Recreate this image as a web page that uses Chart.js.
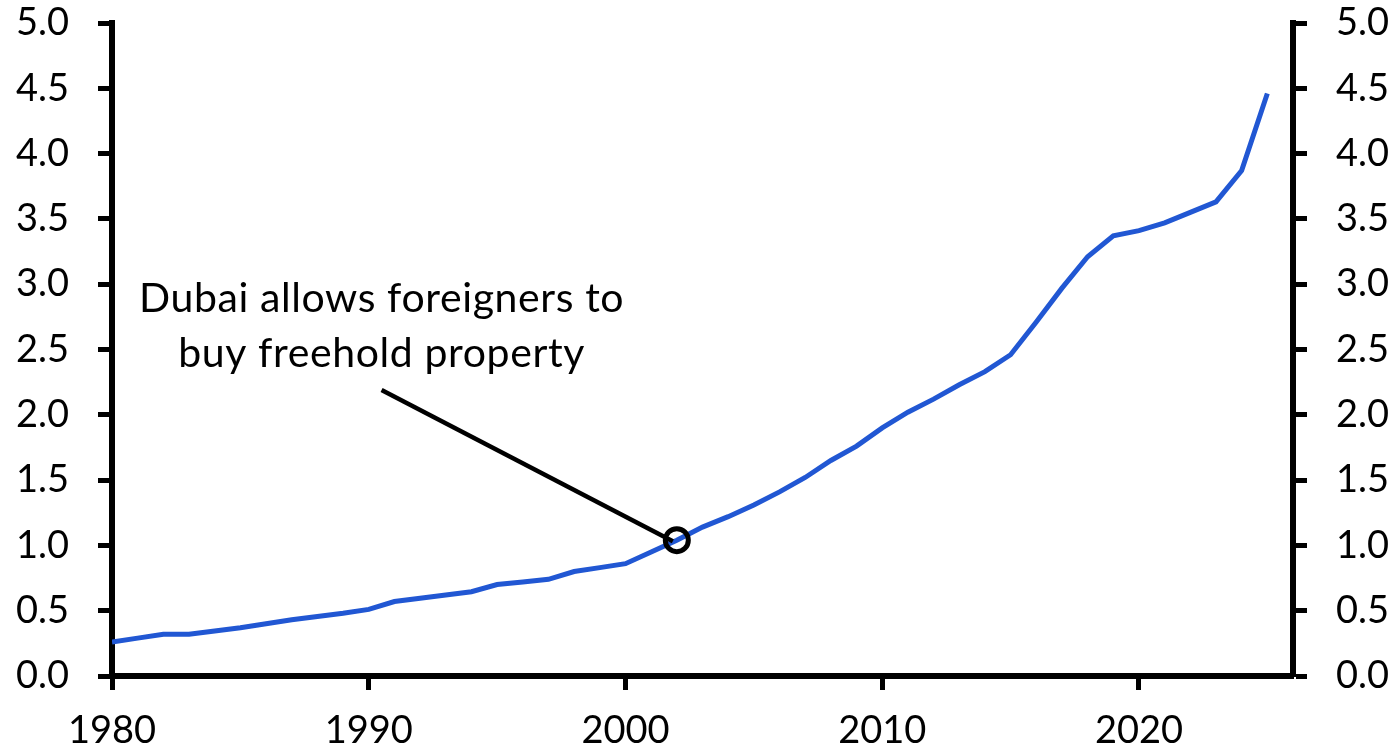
<!DOCTYPE html>
<html>
<head>
<meta charset="utf-8">
<script src="https://cdn.jsdelivr.net/npm/chart.js@4.4.1/dist/chart.umd.min.js"></script>
<style>
  html, body { margin: 0; padding: 0; background: #fff; }
  #wrap { width: 1399px; height: 755px; position: relative; }
</style>
</head>
<body>
<div id="wrap"><canvas id="chart"></canvas></div>
<script>
// Annual series, 1980-2025
const years = [
  1980, 1981, 1982, 1983, 1984, 1985, 1986, 1987, 1988, 1989,
  1990, 1991, 1992, 1993, 1994, 1995, 1996, 1997, 1998, 1999,
  2000, 2001, 2002, 2003, 2004, 2005, 2006, 2007, 2008, 2009,
  2010, 2011, 2012, 2013, 2014, 2015, 2016, 2017, 2018, 2019,
  2020, 2021, 2022, 2023, 2024, 2025
];
const values = [
  0.26, 0.29, 0.32, 0.32, 0.345, 0.37, 0.40, 0.43, 0.455, 0.48,
  0.51, 0.57, 0.595, 0.62, 0.645, 0.70, 0.72, 0.74, 0.80, 0.83,
  0.86, 0.95, 1.04, 1.14, 1.22, 1.31, 1.41, 1.52, 1.65, 1.76,
  1.90, 2.02, 2.12, 2.23, 2.33, 2.46, 2.71, 2.97, 3.21, 3.37,
  3.41, 3.47, 3.55, 3.63, 3.87, 4.46
];

// axis ranges
const xMin = 1980, xMax = 2026, xStep = 10;
const yMin = 0, yMax = 5, yStep = 0.5;

// annotation
const noteLines = ['Dubai allows foreigners to', 'buy freehold property'];
const noteYear = 2002;
const noteText = { x: 1990.5, y: [2.787, 2.366] };
const noteLeaderStart = { x: 1990.5, y: 2.19 };

const blue = '#2157d3';
Chart.defaults.font.family = 'Lato, "Open Sans", sans-serif';
Chart.defaults.color = '#000';

const annotate = {
  id: 'annotate',
  afterDatasetsDraw(chart) {
    const { ctx, scales: { x, y } } = chart;
    const v = values[years.indexOf(noteYear)];
    const cx = x.getPixelForValue(noteYear), cy = y.getPixelForValue(v);
    ctx.save();
    ctx.strokeStyle = '#000';
    ctx.lineWidth = 4.5;
    ctx.beginPath();
    ctx.moveTo(x.getPixelForValue(noteLeaderStart.x), y.getPixelForValue(noteLeaderStart.y));
    ctx.lineTo(cx - 4, cy + 1);
    ctx.stroke();
    ctx.lineWidth = 5;
    ctx.beginPath();
    ctx.arc(cx, cy, 11.5, 0, Math.PI * 2);
    ctx.stroke();
    ctx.fillStyle = '#000';
    ctx.font = '41px Lato';
    ctx.letterSpacing = '0.6px';
    ctx.textAlign = 'center';
    ctx.textBaseline = 'alphabetic';
    noteLines.forEach((t, i) => {
      ctx.fillText(t, x.getPixelForValue(noteText.x), y.getPixelForValue(noteText.y[i]));
    });
    ctx.restore();
  }
};

const fmt = v => Number(v).toFixed(1);
const tickGrid = {
  drawOnChartArea: false,
  drawTicks: true,
  tickLength: 14,
  tickWidth: 5,
  tickColor: '#000'
};
const axisBorder = { display: true, color: '#000', width: 6 };

// fixed axis sizes so the plot area lands where the reference has it
const fitY = w => s => { s.width = w; s.paddingTop = 0; s.paddingBottom = 0; };

new Chart(document.getElementById('chart'), {
  type: 'line',
  data: {
    datasets: [{
      data: years.map((yr, i) => ({ x: yr, y: values[i] })),
      borderColor: blue,
      borderWidth: 5,
      pointRadius: 0,
      tension: 0,
      fill: false
    }]
  },
  options: {
    responsive: true,
    maintainAspectRatio: false,
    animation: false,
    layout: { padding: { top: 23, left: 0, right: 0, bottom: 0 } },
    plugins: { legend: { display: false }, tooltip: { enabled: false } },
    scales: {
      x: {
        type: 'linear',
        min: xMin, max: xMax,
        grid: tickGrid,
        border: axisBorder,
        ticks: { stepSize: xStep, includeBounds: false, padding: 18, font: { size: 38 }, callback: v => String(v), maxRotation: 0 },
        afterFit: s => { s.height = 79; s.paddingLeft = 0; s.paddingRight = 0; }
      },
      y: {
        position: 'left',
        min: yMin, max: yMax,
        grid: tickGrid,
        border: axisBorder,
        ticks: { stepSize: yStep, padding: 29, font: { size: 38 }, callback: fmt },
        afterFit: fitY(112)
      },
      y2: {
        display: true,
        position: 'right',
        min: yMin, max: yMax,
        grid: tickGrid,
        border: axisBorder,
        ticks: { stepSize: yStep, padding: 29, font: { size: 38 }, callback: fmt },
        afterFit: fitY(106)
      }
    }
  },
  plugins: [annotate]
});
</script>
</body>
</html>
